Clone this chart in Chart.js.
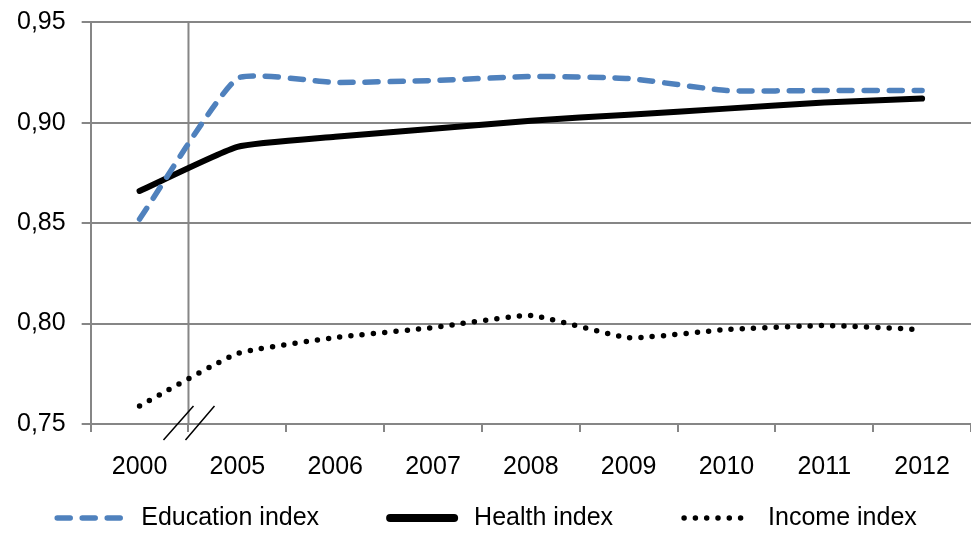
<!DOCTYPE html>
<html>
<head>
<meta charset="utf-8">
<script src="https://cdn.jsdelivr.net/npm/chart.js@4"></script>
<style>
  html, body { margin: 0; padding: 0; background: #fff; }
  #wrap { width: 971px; height: 535px; }
</style>
</head>
<body>
<div id="wrap"><canvas id="idxChart" width="971" height="535"></canvas></div>
<script>
// valores
const years = ['2000', '2005', '2006', '2007', '2008', '2009', '2010', '2011', '2012'];
const educacion = [0.852, 0.922, 0.920, 0.921, 0.923, 0.922, 0.916, 0.916, 0.916];
const salud = [0.866, 0.888, 0.893, 0.897, 0.901, 0.904, 0.907, 0.910, 0.912];
const ingreso = [0.759, 0.785, 0.793, 0.798, 0.804, 0.793, 0.797, 0.799, 0.797];
const yTicks = [0.75, 0.80, 0.85, 0.90, 0.95];

const gris = '#868686';
const familia = "'Liberation Sans', Arial, sans-serif";
const fuente = { family: familia, size: 25 };

// linea vertical del corte entre 2000 y 2005 + las dos barras inclinadas
const cortePlugin = {
    id: 'corte',
    beforeDatasetsDraw(chart) {
        const x = chart.scales.x, a = chart.chartArea, ctx = chart.ctx;
        const bx = (x.getPixelForValue(0) + x.getPixelForValue(1)) / 2;
        ctx.save();
        ctx.strokeStyle = gris;
        ctx.lineWidth = 2;
        ctx.beginPath();
        ctx.moveTo(bx, a.top);
        ctx.lineTo(bx, a.bottom);
        ctx.stroke();
        ctx.restore();
    },
    afterDraw(chart) {
        const x = chart.scales.x, a = chart.chartArea, ctx = chart.ctx;
        const bx = (x.getPixelForValue(0) + x.getPixelForValue(1)) / 2;
        ctx.save();
        ctx.strokeStyle = '#000';
        ctx.lineWidth = 1.5;
        ctx.beginPath();
        ctx.moveTo(bx - 25, a.bottom + 16);
        ctx.lineTo(bx + 5, a.bottom - 18);
        ctx.moveTo(bx - 3, a.bottom + 16);
        ctx.lineTo(bx + 26, a.bottom - 18);
        ctx.stroke();
        ctx.restore();
    }
};

// leyenda propia: la de Chart.js no respeta el borderDash con pointStyle 'line'
const leyendaPlugin = {
    id: 'leyenda',
    afterDraw(chart) {
        const ctx = chart.ctx;
        const sets = chart.data.datasets;
        const muestra = 70, hueco = 17, sep = 68;
        const y = chart.height - 17;
        ctx.save();
        ctx.font = `${fuente.size}px ${familia}`;
        ctx.textBaseline = 'middle';
        ctx.fillStyle = '#000';
        const anchos = sets.map(d => muestra + hueco + ctx.measureText(d.label).width);
        const total = anchos.reduce((s, w) => s + w, 0) + sep * (sets.length - 1);
        let x = (chart.width - total) / 2;
        sets.forEach((d, i) => {
            ctx.save();
            ctx.strokeStyle = d.borderColor;
            ctx.lineWidth = d.legendWidth || d.borderWidth;
            ctx.lineCap = 'round';
            ctx.setLineDash(d.borderDash || []);
            ctx.beginPath();
            ctx.moveTo(x + 3, y);
            ctx.lineTo(x + muestra - 3, y);
            ctx.stroke();
            ctx.restore();
            ctx.fillText(d.label, x + muestra + hueco, y);
            x += anchos[i] + sep;
        });
        ctx.restore();
    }
};

const ctx = document.getElementById('idxChart').getContext('2d');
new Chart(ctx, {
    type: 'line',
    data: {
        labels: years,
        datasets: [
            {
                label: 'Education index',
                data: educacion,
                borderColor: '#4F81BD',
                backgroundColor: '#4F81BD',
                borderWidth: 5.5,
                borderDash: [13, 12],
                borderCapStyle: 'round',
                tension: 0.15,
                pointRadius: 0
            },
            {
                label: 'Health index',
                data: salud,
                borderColor: '#000',
                backgroundColor: '#000',
                borderWidth: 6,
                legendWidth: 8,
                borderCapStyle: 'round',
                tension: 0.15,
                pointRadius: 0
            },
            {
                label: 'Income index',
                data: ingreso,
                borderColor: '#000',
                backgroundColor: '#000',
                borderWidth: 5.5,
                borderDash: [0, 11.3],
                borderCapStyle: 'round',
                tension: 0.15,
                pointRadius: 0
            }
        ]
    },
    options: {
        responsive: false,
        animation: false,
        layout: { padding: { top: 14, right: 0, left: 1, bottom: 33 } },
        scales: {
            x: {
                offset: true,
                grid: { offset: true, drawOnChartArea: false, color: gris, lineWidth: 2, tickLength: 8 },
                border: { display: true, color: gris, width: 2 },
                ticks: { color: '#000', font: fuente, padding: 20, maxRotation: 0 }
            },
            y: {
                min: 0.75,
                max: 0.95,
                afterBuildTicks(axis) { axis.ticks = yTicks.map(v => ({ value: v })); },
                grid: { color: gris, lineWidth: 2, tickLength: 9 },
                border: { display: true, color: gris, width: 2 },
                ticks: {
                    color: '#000',
                    font: { family: familia, size: 25, lineHeight: 0.5 },
                    padding: 16,
                    callback: v => v.toFixed(2).replace('.', ',')
                }
            }
        },
        plugins: {
            legend: { display: false },
            tooltip: { enabled: false }
        }
    },
    plugins: [cortePlugin, leyendaPlugin]
});
</script>
</body>
</html>
